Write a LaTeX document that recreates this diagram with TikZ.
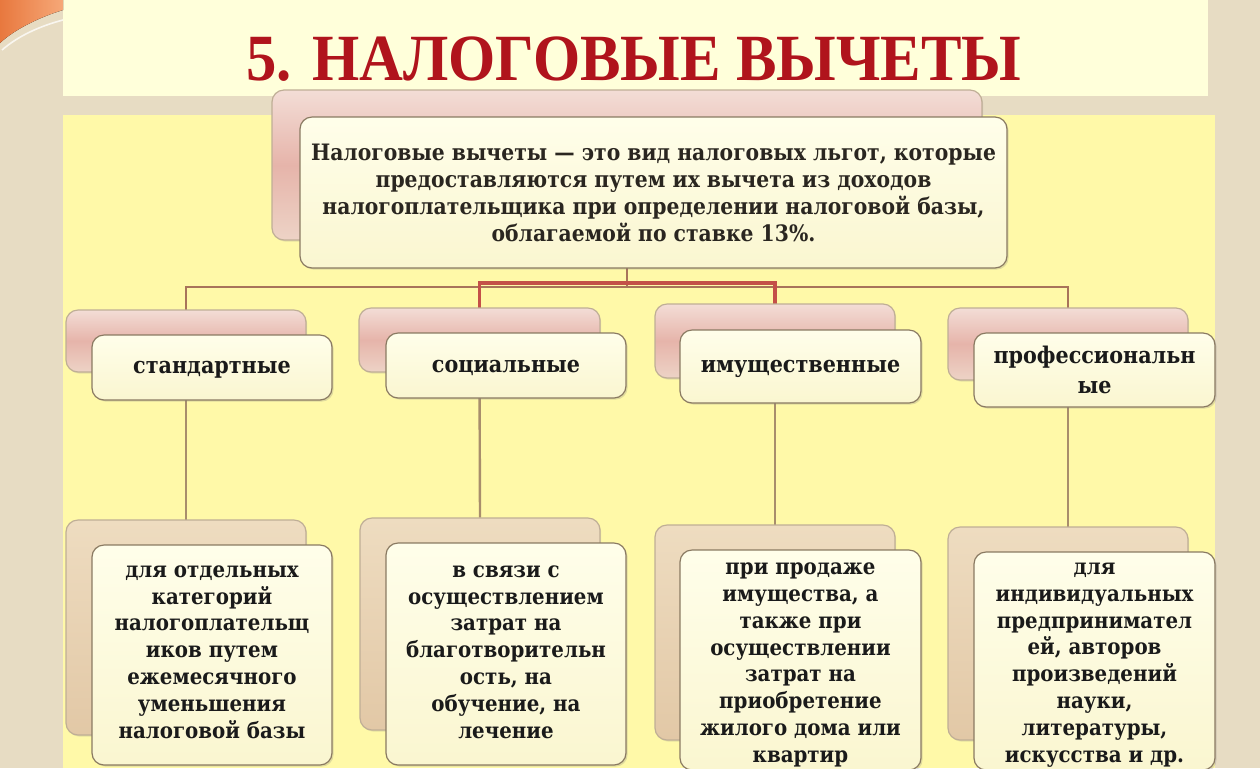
\documentclass[tikz,border=0pt]{standalone}
\usepackage{fontspec}
\setmainfont{DejaVu Serif}
\newfontfamily\bodyfont[FakeStretch=0.9]{DejaVu Serif}
\newfontfamily\topfont[FakeStretch=0.9]{DejaVu Serif}
\newfontfamily\titlefont[FakeStretch=0.92]{Liberation Serif}
\usetikzlibrary{fit,shadows}
\definecolor{bgbeige}{HTML}{E7DCC3}
\definecolor{banner}{HTML}{FFFFDA}
\definecolor{panel}{HTML}{FFF9A8}
\definecolor{titlered}{HTML}{B0141C}
\definecolor{linebrown}{HTML}{A8745A}
\definecolor{linered}{HTML}{C45048}
\definecolor{linetan}{HTML}{A88E6C}
\definecolor{creamtop}{HTML}{FFFEEA}
\definecolor{creambot}{HTML}{FAF6D0}
\definecolor{pinktop}{HTML}{F3DDD6}
\definecolor{pinkmid}{HTML}{E6B4AA}
\definecolor{pinkbot}{HTML}{EDD3C6}
\definecolor{tantop}{HTML}{EEDCC0}
\definecolor{tanbot}{HTML}{E2C8A6}
\definecolor{frontline}{HTML}{8A7A62}
\definecolor{backline}{HTML}{BFAE96}
\definecolor{textcol}{HTML}{1A1A1A}
\definecolor{toptextcol}{HTML}{2A2620}
\definecolor{orangeA}{HTML}{E8783E}
\definecolor{orangeB}{HTML}{F6A878}
\tikzset{
  frontbox/.style={inner sep=0pt, rounded corners=6pt, draw=frontline, line width=0.6pt,
    top color=creamtop, bottom color=creambot,
    drop shadow={opacity=0.25, shadow xshift=0.8pt, shadow yshift=-0.8pt}},
  backpink/.style={inner sep=0pt, rounded corners=6pt, draw=backline, line width=0.6pt,
    top color=pinktop, bottom color=pinkbot, middle color=pinkmid,
    drop shadow={opacity=0.2, shadow xshift=0.6pt, shadow yshift=-0.8pt}},
  backtan/.style={inner sep=0pt, rounded corners=6pt, draw=backline, line width=0.6pt,
    top color=tantop, bottom color=tanbot,
    drop shadow={opacity=0.2, shadow xshift=0.6pt, shadow yshift=-0.8pt}},
  txt/.style={align=center, text=textcol, font=\bodyfont\bfseries\fontsize{11}{13.4}\selectfont},
  cattxt/.style={align=center, text=textcol, font=\bodyfont\bfseries\fontsize{11.5}{15}\selectfont},
  toptxt/.style={align=center, text=toptextcol, font=\topfont\bfseries\fontsize{11.3}{13.5}\selectfont},
  conn/.style={draw=linebrown, line width=1.4pt},
  connred/.style={draw=linered, line width=1.6pt},
  connlow/.style={draw=linetan, line width=1.2pt},
}
\begin{document}
\begin{tikzpicture}[x=0.5pt,y=-0.5pt]
\useasboundingbox (0,0) rectangle (1260,768);
% background
\fill[bgbeige] (0,0) rectangle (1260,768);
\fill[banner] (63,0) rectangle (1208,96);
\fill[panel] (63,115) rectangle (1215,768);
\fill[left color=orangeA, right color=orangeB] (0,0) -- (63,0) -- (63,10) .. controls (40,17) and (15,29) .. (0,43) -- cycle;
\draw[white!75!bgbeige, line width=0.8pt] (63,20) .. controls (40,26) and (18,36) .. (2,50);
% title
\node[anchor=base, text=titlered, font=\titlefont\bfseries\fontsize{33}{33}\selectfont] (title) at (634,80) {5. НАЛОГОВЫЕ ВЫЧЕТЫ};
% box geometry
\node[fit={(272,90) (982,240)}, inner sep=0pt] (tb) {};
\node[fit={(66,310) (306,372)}, inner sep=0pt] (c1b) {};
\node[fit={(359,308) (600,372)}, inner sep=0pt] (c2b) {};
\node[fit={(655,304) (895,378)}, inner sep=0pt] (c3b) {};
\node[fit={(948,308) (1188,380)}, inner sep=0pt] (c4b) {};
\node[fit={(66,520) (306,735)}, inner sep=0pt] (b1b) {};
\node[fit={(360,518) (600,730)}, inner sep=0pt] (b2b) {};
\node[fit={(655,525) (895,740)}, inner sep=0pt] (b3b) {};
\node[fit={(948,527) (1188,740)}, inner sep=0pt] (b4b) {};
% connectors
\coordinate (busB) at (627,287);
\coordinate (busR) at (627,283);
\draw[conn] (tb.south) -- (busB) -| (c1b.north);
\draw[conn] (busB) -| (c4b.north);
\draw[connred] (busR) -| (c2b.north);
\draw[connred] (busR) -| (c3b.north);
\draw[connlow] (c1b.south) -- (b1b.north);
\draw[connlow] (c2b.south) -- (b2b.north);
\draw[connlow] (c3b.south) -- (b3b.north);
\draw[connlow] (c4b.south) -- (b4b.north);
% back boxes
\node[backpink, fit={(272,90) (982,240)}] (tbk) {};
\node[backpink, fit={(66,310) (306,372)}] (c1k) {};
\node[backpink, fit={(359,308) (600,372)}] (c2k) {};
\node[backpink, fit={(655,304) (895,378)}] (c3k) {};
\node[backpink, fit={(948,308) (1188,380)}] (c4k) {};
\node[backtan, fit={(66,520) (306,735)}] (b1k) {};
\node[backtan, fit={(360,518) (600,730)}] (b2k) {};
\node[backtan, fit={(655,525) (895,740)}] (b3k) {};
\node[backtan, fit={(948,527) (1188,740)}] (b4k) {};
% front boxes
\node[frontbox, fit={(300,117) (1007,268)}] (tf) {};
\node[frontbox, fit={(92,335) (332,400)}] (c1f) {};
\node[frontbox, fit={(386,333) (626,398)}] (c2f) {};
\node[frontbox, fit={(680,330) (921,403)}] (c3f) {};
\node[frontbox, fit={(974,333) (1215,407)}] (c4f) {};
\node[frontbox, fit={(92,545) (332,765)}] (b1f) {};
\node[frontbox, fit={(386,543) (626,765)}] (b2f) {};
\node[frontbox, fit={(680,550) (921,770)}] (b3f) {};
\node[frontbox, fit={(974,552) (1215,770)}] (b4f) {};
% texts
\node[toptxt] (tt) at (tf.center) {Налоговые вычеты — это вид налоговых льгот, которые\\предоставляются путем их вычета из доходов\\налогоплательщика при определении налоговой базы,\\облагаемой по ставке 13\%.};
\node[cattxt] (c1t) at ([yshift=-1pt]c1f.center) {стандартные};
\node[cattxt] (c2t) at ([yshift=-1pt]c2f.center) {социальные};
\node[cattxt] (c3t) at ([yshift=-1pt]c3f.center) {имущественные};
\node[cattxt] (c4t) at (c4f.center) {профессиональн\\ые};
\node[txt] (b1t) at ([yshift=1.5pt]b1f.center) {для отдельных\\категорий\\налогоплательщ\\иков путем\\ежемесячного\\уменьшения\\налоговой базы};
\node[txt] (b2t) at ([yshift=1pt]b2f.center) {в связи с\\осуществлением\\затрат на\\благотворительн\\ость, на\\обучение, на\\лечение};
\node[txt] (b3t) at ([yshift=-2.5pt]b3f.center) {при продаже\\имущества, а\\также при\\осуществлении\\затрат на\\приобретение\\жилого дома или\\квартир};
\node[txt] (b4t) at ([yshift=-2pt]b4f.center) {для\\индивидуальных\\предпринимател\\ей, авторов\\произведений\\науки,\\литературы,\\искусства и др.};
\end{tikzpicture}
\end{document}
